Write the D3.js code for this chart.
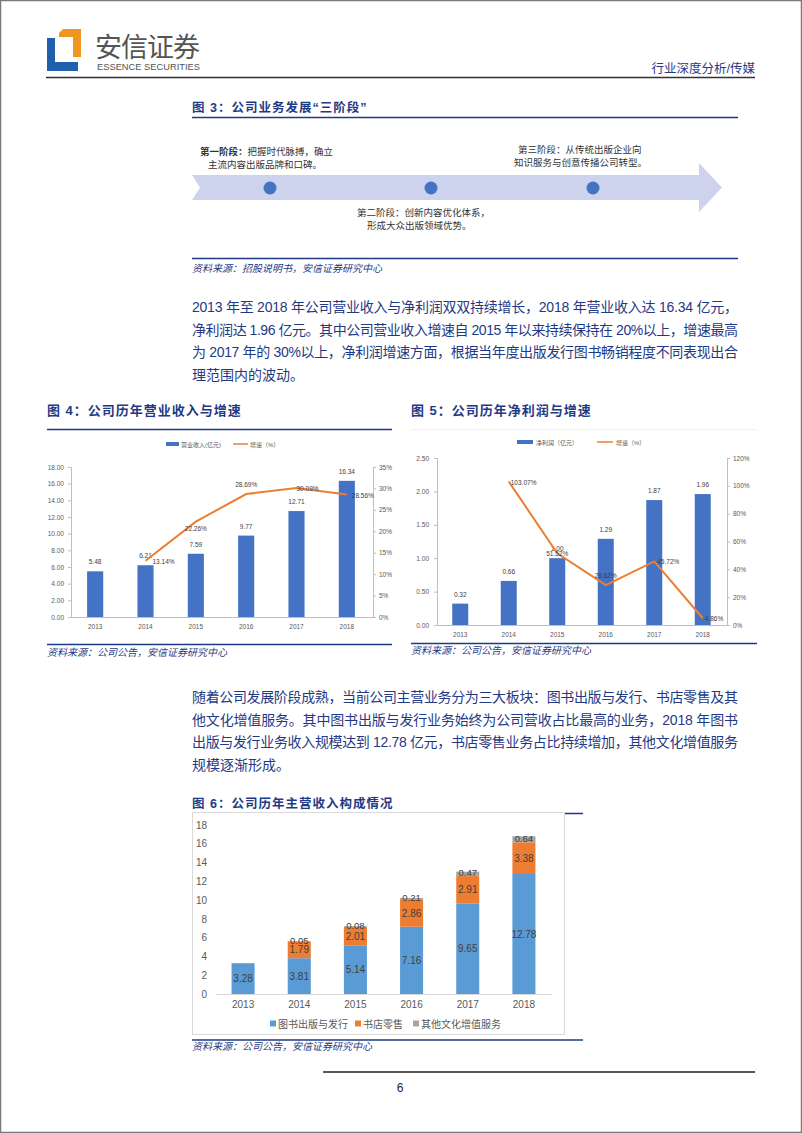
<!DOCTYPE html>
<html><head><meta charset="utf-8">
<script src="https://cdn.jsdelivr.net/npm/d3@7"></script>
<style>
html,body{margin:0;padding:0;background:#fff;}
svg{display:block;}
text{font-family:"Liberation Sans","Noto Sans CJK SC",sans-serif;}
</style></head>
<body><svg id="page" width="802" height="1133"></svg>
<script>
// ---------- DATA ----------
const years = ["2013","2014","2015","2016","2017","2018"];
const revenue = [5.48, 6.21, 7.59, 9.77, 12.71, 16.34];
const revenueGrowth = [null, 13.14, 22.26, 28.69, 30.09, 28.56];
const netProfit = [0.32, 0.66, 1.00, 1.29, 1.87, 1.96];
const profitGrowth = [null, 103.07, 51.52, 28.62, 45.72, 4.86];
const publishing = [3.28, 3.81, 5.14, 7.16, 9.65, 12.78];
const retail = [0, 1.79, 2.01, 2.86, 2.91, 3.38];
const otherSvc = [0, 0.05, 0.08, 0.21, 0.47, 0.64];
const revTicks = [0,2,4,6,8,10,12,14,16,18];
const revGrowthTicks = [0,5,10,15,20,25,30,35];
const profitTicks = [0,0.5,1,1.5,2,2.5];
const profitGrowthTicks = [0,20,40,60,80,100,120];
const compTicks = [0,2,4,6,8,10,12,14,16,18];
const seriesNames6 = ["图书出版与发行","书店零售","其他文化增值服务"];
const para1 = [
 "2013 年至 2018 年公司营业收入与净利润双双持续增长，2018 年营业收入达 16.34 亿元，",
 "净利润达 1.96 亿元。其中公司营业收入增速自 2015 年以来持续保持在 20%以上，增速最高",
 "为 2017 年的 30%以上，净利润增速方面，根据当年度出版发行图书畅销程度不同表现出合",
 "理范围内的波动。"];
const para2 = [
 "随着公司发展阶段成熟，当前公司主营业务分为三大板块：图书出版与发行、书店零售及其",
 "他文化增值服务。其中图书出版与发行业务始终为公司营收占比最高的业务，2018 年图书",
 "出版与发行业务收入规模达到 12.78 亿元，书店零售业务占比持续增加，其他文化增值服务",
 "规模逐渐形成。"];

// ---------- STYLE ----------
const NAVY = "#1f3a85";
const BAR_BLUE = "#4472c4";
const LINE_ORANGE = "#ed7d31";
const AX = "#bfbfbf";
const TXT = "#595959";
const CJK = "'Noto Sans CJK SC',sans-serif";
const SERIF = "'Liberation Serif','Noto Sans CJK SC',serif";

const svg = d3.select("#page");
svg.append("rect").attr("x",0.5).attr("y",0.5).attr("width",801).attr("height",1132)
  .attr("fill","#fff").attr("stroke","#7a7a7a").attr("stroke-width",1.5);

// ---------- HEADER ----------
svg.append("polygon").attr("points","47,38 55,38 55,62 78,62 78,71 47,71").attr("fill","#1f5fae");
svg.append("polygon").attr("points","59,33 63,29 81,29 81,57 73,57 73,37 59,37").attr("fill","#f0961e");
svg.append("text").attr("x",95).attr("y",57).attr("font-size",27).attr("fill","#555")
  .attr("font-family",CJK).attr("textLength",105).text("安信证券");
svg.append("text").attr("x",97).attr("y",70).attr("font-size",9.5).attr("fill","#555")
  .attr("font-family","'Liberation Sans Narrow','Liberation Sans',sans-serif").attr("textLength",103).attr("lengthAdjust","spacingAndGlyphs").text("ESSENCE SECURITIES");
svg.append("text").attr("x",755).attr("y",73).attr("text-anchor","end").attr("font-size",12.5)
  .attr("fill",NAVY).attr("font-family",CJK).text("行业深度分析/传媒");
svg.append("line").attr("x1",46).attr("x2",755).attr("y1",77.5).attr("y2",77.5).attr("stroke","#333").attr("stroke-width",1.5);

// helpers
function title(x,y,t,size){
  svg.append("text").attr("x",x).attr("y",y).attr("font-size",size||12.5).attr("font-weight","bold")
   .attr("fill",NAVY).attr("letter-spacing",1).text(t);
}
function hline(x1,x2,y,w,c){
  svg.append("line").attr("x1",x1).attr("x2",x2).attr("y1",y).attr("y2",y).attr("stroke",c||NAVY).attr("stroke-width",w||1.3);
}
function source(x,y,t){
  svg.append("text").attr("x",x).attr("y",y).attr("font-size",10).attr("font-style","italic")
   .attr("fill",NAVY).attr("font-family",CJK).text(t);
}

// ---------- FIGURE 3 ----------
title(192,112,"图 3：公司业务发展“三阶段”");
hline(192,738,117.5);
svg.append("polygon").attr("points","192,175 699,175 699,163 722,187.5 699,212 699,200 192,200 200,187.5")
  .attr("fill","#cdd3ec");
[270,431,593].forEach(cx=>svg.append("circle").attr("cx",cx).attr("cy",188).attr("r",6.5).attr("fill",BAR_BLUE));
function stage(x,y,bold,rest){
  const t=svg.append("text").attr("x",x).attr("y",y).attr("font-size",9.5).attr("fill","#333").attr("font-family",CJK);
  if(bold) t.append("tspan").attr("font-weight","bold").text(bold);
  t.append("tspan").text(rest);
}
stage(200,155,"第一阶段：","把握时代脉搏，确立");
stage(208,168,"","主流内容出版品牌和口碑。");
stage(518,153,"","第三阶段：从传统出版企业向");
stage(514,166,"","知识服务与创意传播公司转型。");
stage(357,216,"","第二阶段：创新内容优化体系，");
stage(367,229,"","形成大众出版领域优势。");
hline(192,738,258.5);
source(192,272,"资料来源：招股说明书，安信证券研究中心");

// ---------- PARAGRAPHS ----------
function para(lines,y0){
  lines.forEach((l,i)=>{
    const t=svg.append("text").attr("x",192).attr("y",y0+i*22.7).attr("font-size",14).attr("fill",NAVY).text(l);
    if(i<lines.length-1) t.attr("textLength",546).attr("lengthAdjust","spacing");
  });
}
para(para1,312);
para(para2,702);

// ---------- FIGURE 4 ----------
title(47,415,"图 4：公司历年营业收入与增速",13);
hline(47,392,429.5);
(function(){
  const g=svg.append("g");
  const x=d3.scaleBand().domain(years).range([70,372]).paddingInner(0.68).paddingOuter(0.34);
  const y=d3.scaleLinear().domain([0,18]).range([617,467]);
  const yr=d3.scaleLinear().domain([0,35]).range([617,467]);
  g.append("rect").attr("x",166).attr("y",442).attr("width",13).attr("height",4).attr("fill",BAR_BLUE);
  g.append("text").attr("x",181).attr("y",446.5).attr("font-size",6).attr("fill",TXT).attr("font-family",CJK).text("营业收入(亿元)");
  g.append("line").attr("x1",233).attr("x2",248).attr("y1",444).attr("y2",444).attr("stroke",LINE_ORANGE).attr("stroke-width",1.5);
  g.append("text").attr("x",250).attr("y",446.5).attr("font-size",6).attr("fill",TXT).attr("font-family",CJK).text("增速（%）");
  const la=g.append("g").attr("transform","translate(71,0)").call(d3.axisLeft(y).tickValues(revTicks).tickFormat(d3.format(".2f")).tickSize(3).tickPadding(4));
  const ra=g.append("g").attr("transform","translate(373,0)").call(d3.axisRight(yr).tickValues(revGrowthTicks).tickFormat(d=>d+"%").tickSize(3).tickPadding(3));
  const ba=g.append("g").attr("transform","translate(0,617)").call(d3.axisBottom(x).tickSize(0).tickPadding(7));
  [la,ra,ba].forEach(a=>{a.selectAll("path,line").attr("stroke",AX);a.selectAll("text").attr("font-size",6.5).attr("fill",TXT).attr("font-family",SERIF);});
  ba.select("path").attr("d","M71,0.5H373");
  g.selectAll(".b").data(revenue).join("rect").attr("x",(d,i)=>x(years[i])).attr("y",d=>y(d))
   .attr("width",x.bandwidth()).attr("height",d=>617-y(d)).attr("fill",BAR_BLUE);
  g.selectAll(".bl").data(revenue).join("text").attr("x",(d,i)=>x(years[i])+x.bandwidth()/2).attr("y",d=>y(d)-7)
   .attr("text-anchor","middle").attr("font-size",6.5).attr("fill","#404040").attr("font-family",SERIF).text(d=>d.toFixed(2));
  const pts=revenueGrowth.map((v,i)=>v==null?null:[x(years[i])+x.bandwidth()/2,yr(v)]).filter(p=>p);
  g.append("path").attr("d",d3.line()(pts)).attr("fill","none").attr("stroke",LINE_ORANGE).attr("stroke-width",2);
  const off=[null,[7,3,"start"],[0,9,"middle"],[0,-7,"middle"],[0,3,"start"],[5,3,"start"]];
  revenueGrowth.forEach((v,i)=>{ if(v==null) return;
    g.append("text").attr("x",x(years[i])+x.bandwidth()/2+off[i][0]).attr("y",yr(v)+off[i][1])
     .attr("text-anchor",off[i][2]).attr("font-size",6.5).attr("fill","#404040").attr("font-family",SERIF).text(v.toFixed(2)+"%");
  });
})();
hline(47,392,644.5);
source(47,656,"资料来源：公司公告，安信证券研究中心");

// ---------- FIGURE 5 ----------
title(411,415,"图 5：公司历年净利润与增速",13);
hline(411,757,429.5,0.6,"#e8e8e8");
(function(){
  const g=svg.append("g");
  const x=d3.scaleBand().domain(years).range([436,727]).paddingInner(0.67).paddingOuter(0.335);
  const y=d3.scaleLinear().domain([0,2.5]).range([625,458]);
  const yr=d3.scaleLinear().domain([0,120]).range([625,458]);
  g.append("rect").attr("x",517).attr("y",440).attr("width",16).attr("height",4).attr("fill",BAR_BLUE);
  g.append("text").attr("x",536).attr("y",444.5).attr("font-size",6).attr("fill",TXT).attr("font-family",CJK).text("净利润（亿元）");
  g.append("line").attr("x1",597).attr("x2",613).attr("y1",442).attr("y2",442).attr("stroke",LINE_ORANGE).attr("stroke-width",1.5);
  g.append("text").attr("x",616).attr("y",444.5).attr("font-size",6).attr("fill",TXT).attr("font-family",CJK).text("增速（%）");
  const la=g.append("g").attr("transform","translate(437,0)").call(d3.axisLeft(y).tickValues(profitTicks).tickFormat(d3.format(".2f")).tickSize(3).tickPadding(5));
  const ra=g.append("g").attr("transform","translate(727,0)").call(d3.axisRight(yr).tickValues(profitGrowthTicks).tickFormat(d=>d+"%").tickSize(3).tickPadding(3));
  const ba=g.append("g").attr("transform","translate(0,625)").call(d3.axisBottom(x).tickSize(0).tickPadding(7));
  [la,ra,ba].forEach(a=>{a.selectAll("path,line").attr("stroke",AX);a.selectAll("text").attr("font-size",6.5).attr("fill",TXT).attr("font-family",SERIF);});
  ba.select("path").attr("d","M437,0.5H727");
  g.selectAll(".b").data(netProfit).join("rect").attr("x",(d,i)=>x(years[i])).attr("y",d=>y(d))
   .attr("width",x.bandwidth()).attr("height",d=>625-y(d)).attr("fill",BAR_BLUE);
  g.selectAll(".bl").data(netProfit).join("text").attr("x",(d,i)=>x(years[i])+x.bandwidth()/2).attr("y",d=>y(d)-7)
   .attr("text-anchor","middle").attr("font-size",6.5).attr("fill","#404040").attr("font-family",SERIF).text(d=>d.toFixed(2));
  const pts=profitGrowth.map((v,i)=>v==null?null:[x(years[i])+x.bandwidth()/2,yr(v)]).filter(p=>p);
  g.append("path").attr("d",d3.line()(pts)).attr("fill","none").attr("stroke",LINE_ORANGE).attr("stroke-width",2);
  const off=[null,[2,3,"start"],[0,3,"middle"],[0,-7,"middle"],[3,3,"start"],[2,3,"start"]];
  profitGrowth.forEach((v,i)=>{ if(v==null) return;
    g.append("text").attr("x",x(years[i])+x.bandwidth()/2+off[i][0]).attr("y",yr(v)+off[i][1])
     .attr("text-anchor",off[i][2]).attr("font-size",6.5).attr("fill","#404040").attr("font-family",SERIF).text(v.toFixed(2)+"%");
  });
})();
hline(411,757,643.5);
source(411,654,"资料来源：公司公告，安信证券研究中心");

// ---------- FIGURE 6 ----------
title(192,808,"图 6：公司历年主营收入构成情况",12.5);
hline(192,583,813.5);
svg.append("rect").attr("x",192.5).attr("y",812.5).attr("width",372).attr("height",222).attr("fill","#fff").attr("stroke","#d9d9d9");
(function(){
  const g=svg.append("g");
  const x=d3.scaleBand().domain(years).range([215,552]).paddingInner(0.59).paddingOuter(0.295);
  const y=d3.scaleLinear().domain([0,18]).range([994,825]);
  const la=g.append("g").attr("transform","translate(215,0)").call(d3.axisLeft(y).tickValues(compTicks).tickSize(0).tickPadding(8));
  la.select("path").remove();
  const ba=g.append("g").attr("transform","translate(0,994)").call(d3.axisBottom(x).tickSize(0).tickPadding(7));
  ba.select("path").attr("stroke","#d9d9d9");
  [la,ba].forEach(a=>a.selectAll("text").attr("font-size",10).attr("fill",TXT));
  const keys=["p","r","o"];
  const stackData=years.map((yv,i)=>({year:yv,p:publishing[i],r:retail[i],o:otherSvc[i]}));
  const stack=d3.stack().keys(keys)(stackData);
  const colors=["#5b9bd5","#ed7d31","#a5a5a5"];
  stack.forEach((s,k)=>{
    g.selectAll(".s"+k).data(s).join("rect").attr("x",d=>x(d.data.year)).attr("y",d=>y(d[1]))
     .attr("width",x.bandwidth()).attr("height",d=>y(d[0])-y(d[1])).attr("fill",colors[k]);
  });
  stack.forEach((s,k)=>{
    const key=keys[k];
    g.selectAll(".l"+k).data(s.filter(d=>d.data[key]>0)).join("text")
     .attr("x",d=>x(d.data.year)+x.bandwidth()/2).attr("y",d=>(y(d[0])+y(d[1]))/2+(k===2?2.5:3.5))
     .attr("text-anchor","middle").attr("font-size",k===2?9.5:10).attr("fill","#404040").text(d=>d.data[key].toFixed(2));
  });
  const lx=[270,355,413];
  seriesNames6.forEach((n,k)=>{
    g.append("rect").attr("x",lx[k]).attr("y",1020.5).attr("width",6).attr("height",6).attr("fill",colors[k]);
    g.append("text").attr("x",lx[k]+8).attr("y",1027.5).attr("font-size",10).attr("fill",TXT).text(n);
  });
})();
hline(192,583,1040);
source(192,1050,"资料来源：公司公告，安信证券研究中心");

// ---------- FOOTER ----------
svg.append("line").attr("x1",323).attr("x2",755).attr("y1",1072).attr("y2",1072).attr("stroke","#222").attr("stroke-width",1.5);
svg.append("text").attr("x",400).attr("y",1092).attr("text-anchor","middle").attr("font-size",12).attr("fill","#222").text("6");
</script></body></html>
